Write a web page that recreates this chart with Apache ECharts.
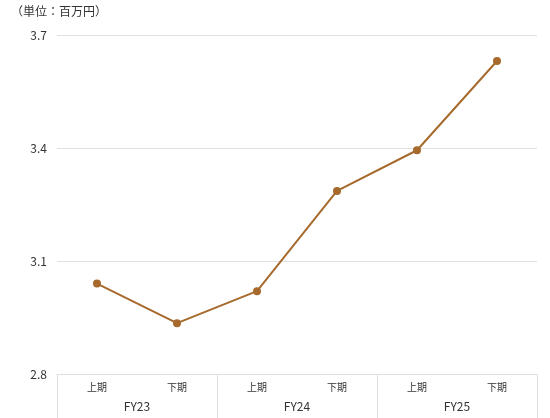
<!DOCTYPE html>
<html><head><meta charset="utf-8">
<script src="https://cdn.jsdelivr.net/npm/echarts@6/dist/echarts.min.js"></script>
<style>html,body{margin:0;padding:0;background:#fff}#c{width:550px;height:418px}</style>
</head><body><div id="c"></div>
<script>
const halves = ['上期','下期','上期','下期','上期','下期'];
const years = ['FY23','FY24','FY25'];
const values = [3.04, 2.935, 3.02, 3.286, 3.394, 3.631];
const yTicks = [2.8, 3.7, 0.3];
const unitLabel = '（単位：百万円）';

const font = '"Noto Sans CJK JP", "Noto Sans", sans-serif';
const chart = echarts.init(document.getElementById('c'));
chart.setOption({
  animation: false,
  textStyle: {fontFamily: font},
  title: {text: unitLabel, left: 11, top: 5, padding: 0, textStyle: {fontSize: 12, fontWeight: 'normal', color: '#333', fontFamily: font}},
  grid: {left: 57, right: 13, top: 35, bottom: 44},
  xAxis: [
    {type: 'category', data: halves, position: 'bottom',
     axisLine: {show: true, lineStyle: {color: '#e0e0e0'}},
     axisTick: {show: false},
     axisLabel: {color: '#333', fontSize: 10, margin: 8, fontFamily: font}},
    {type: 'category', data: years, position: 'bottom',
     axisLine: {show: false},
     axisTick: {show: true, length: 44, lineStyle: {color: '#e0e0e0'}},
     axisLabel: {color: '#333', fontSize: 12, margin: 26, fontFamily: font}}
  ],
  yAxis: {type: 'value', min: yTicks[0], max: yTicks[1], interval: yTicks[2],
    axisLine: {show: false}, axisTick: {show: false},
    axisLabel: {color: '#333', fontSize: 12, margin: 10, formatter: v => v.toFixed(1), fontFamily: font},
    splitLine: {lineStyle: {color: '#e0e0e0'}}},
  series: [{type: 'line', data: values, xAxisIndex: 0,
    symbol: 'circle', symbolSize: 8,
    lineStyle: {color: '#a66a2c', width: 2},
    itemStyle: {color: '#a66a2c'}}]
});
</script></body></html>
